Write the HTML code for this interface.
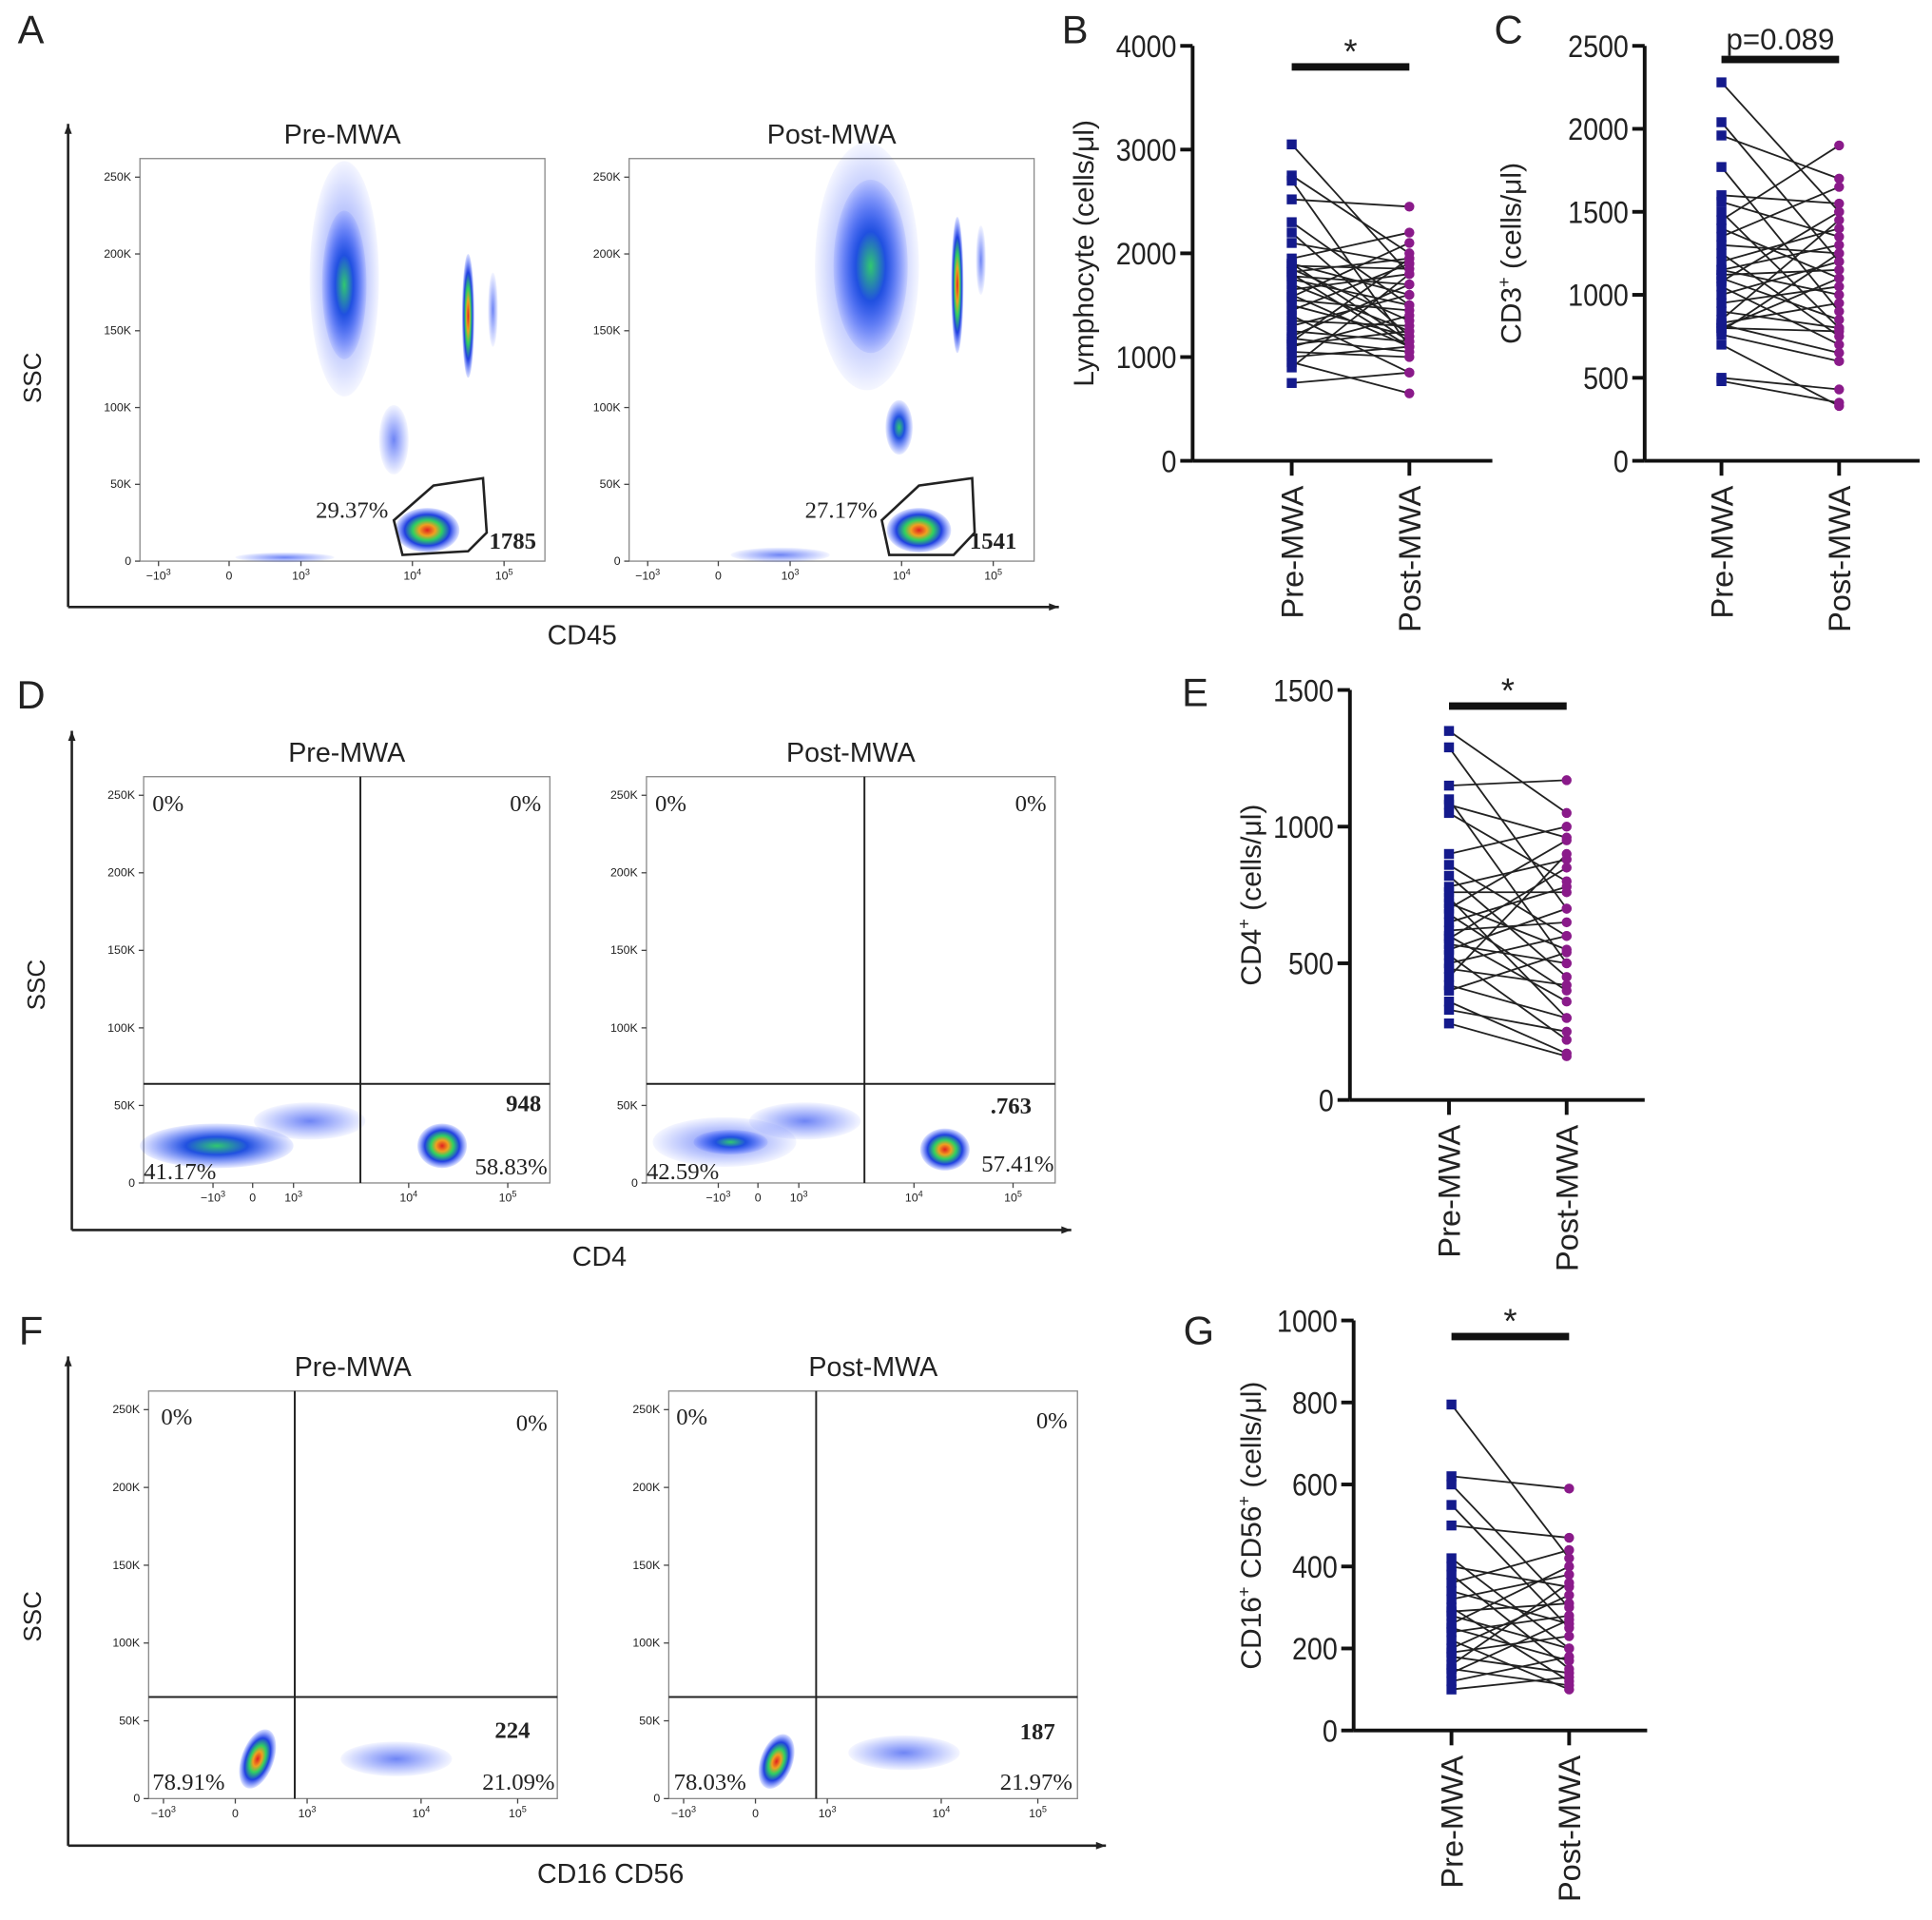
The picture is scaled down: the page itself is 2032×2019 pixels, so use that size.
<!DOCTYPE html>
<html><head><meta charset="utf-8">
<style>
html,body{margin:0;padding:0;background:#fff;}
svg{display:block;font-family:"Liberation Sans",Arial,sans-serif;}
</style></head>
<body>
<svg id="fig" width="2032" height="2019" viewBox="0 0 1560 1550" xmlns="http://www.w3.org/2000/svg">
<defs>
<radialGradient id="heat" cx="50%" cy="50%" r="50%">
<stop offset="0%" stop-color="#e02020"/><stop offset="25%" stop-color="#f0a020"/><stop offset="45%" stop-color="#30d060"/><stop offset="70%" stop-color="#2040e0"/><stop offset="100%" stop-color="#3050ff" stop-opacity="0.15"/>
</radialGradient>
<radialGradient id="cool" cx="50%" cy="50%" r="50%">
<stop offset="0%" stop-color="#30c870"/><stop offset="40%" stop-color="#2050e0"/><stop offset="100%" stop-color="#3050ff" stop-opacity="0.1"/>
</radialGradient>
<radialGradient id="faint" cx="50%" cy="50%" r="50%">
<stop offset="0%" stop-color="#3050f0" stop-opacity="0.7"/><stop offset="100%" stop-color="#3050ff" stop-opacity="0.05"/>
</radialGradient>
</defs>
</svg>
<script>
// ===== Chart data =====
const groups = ["Pre-MWA","Post-MWA"];
const bTicks = [0,1000,2000,3000,4000];
const bPre  = [3050,2750,2700,2520,2300,2200,2100,1950,1900,1900,1880,1850,1820,1800,1780,1750,1700,1650,1600,1580,1550,1500,1450,1400,1350,1300,1250,1200,1180,1150,1120,1100,1050,1000,950,900,750];
const bPost = [1800,2000,1100,2450,1500,1200,1900,2200,1600,1150,1850,1350,1950,1100,1700,1500,1250,1800,1100,2100,1450,1200,1900,850,1300,1600,1150,1700,1050,1950,1250,1400,1000,1100,650,1800,850];
const cTicks = [0,500,1000,1500,2000,2500];
const cPre  = [2280,2040,1960,1770,1600,1560,1500,1450,1400,1350,1300,1250,1200,1150,1150,1120,1100,1080,1050,1000,950,900,850,830,820,800,800,780,760,700,500,480];
const cPost = [1500,1200,1700,900,1550,1350,800,1900,1100,1650,1250,750,1400,1300,1000,1150,850,1500,700,1200,1050,800,1450,950,650,1100,780,1250,600,330,430,350];
const eTicks = [0,500,1000,1500];
const ePre  = [1350,1290,1150,1100,1080,1050,900,860,820,780,760,740,720,700,680,650,620,600,590,570,550,530,500,480,450,420,400,360,330,280];
const ePost = [1050,700,1170,500,960,800,1000,600,450,880,760,300,550,950,400,780,650,360,850,500,700,220,600,420,900,300,540,170,250,160];
const gTicks = [0,200,400,600,800,1000];
const gPre  = [795,620,600,550,500,420,400,380,360,340,320,300,290,280,260,250,240,220,200,190,180,160,150,140,120,100];
const gPost = [420,590,300,250,470,200,350,150,440,260,380,120,310,200,400,170,280,100,330,230,140,360,110,270,180,130];

const SVGNS="http://www.w3.org/2000/svg";
const fig=document.getElementById('fig');
function mk(tag,attrs,parent,text){const e=document.createElementNS(SVGNS,tag);for(const k in attrs)e.setAttribute(k,attrs[k]);if(text!==undefined)e.textContent=text;(parent||fig).appendChild(e);return e;}
function txt(x,y,s,size,parent,opts){opts=opts||{};const e=mk('text',{x:x,y:y,'font-size':size,'text-anchor':opts.anchor||'middle','font-family':opts.serif?'"Liberation Serif",serif':'"Liberation Sans",Arial,sans-serif','font-weight':opts.bold?'bold':'normal',fill:'#222'},parent,s);if(opts.rot)e.setAttribute('transform','rotate(-90 '+x+' '+y+')');if(opts.sx)e.setAttribute('transform','translate('+x+' '+y+') scale('+opts.sx+' 1) translate('+(-x)+' '+(-y)+')');return e;}

// panel letters
[["A",25,35],["B",868,35],["C",1218,35],["D",25,572],["E",965,570],["F",25,1085],["G",968,1085]].forEach(p=>{
  const t=txt(p[1],p[2],p[0],32,fig,{});
  
  
});

// ===== Paired dot plots =====
function paired(cfg){
  const g=mk('g',{});
  
  
  const ymax=cfg.ticks[cfg.ticks.length-1];
  const Y=v=>cfg.y0-(v/ymax)*(cfg.y0-cfg.y1);
  const X=i=>i===0?cfg.xPre:cfg.xPost;
  mk('line',{x1:cfg.ax,y1:cfg.y1,x2:cfg.ax,y2:cfg.y0,stroke:'#111','stroke-width':3},g);
  mk('line',{x1:cfg.ax,y1:cfg.y0,x2:cfg.xend,y2:cfg.y0,stroke:'#111','stroke-width':3},g);
  cfg.ticks.forEach(t=>{
    mk('line',{x1:cfg.ax-10,y1:Y(t),x2:cfg.ax,y2:Y(t),stroke:'#111','stroke-width':3},g);
    const l=txt(cfg.ax-13,Y(t)+9,String(t),25,g,{anchor:'end',sx:0.88});
    
    
  });
  groups.forEach((nm,i)=>{
    mk('line',{x1:X(i),y1:cfg.y0,x2:X(i),y2:cfg.y0+12,stroke:'#111','stroke-width':3},g);
    const l=txt(X(i)+9,cfg.y0+20,nm,25,g,{anchor:'end',rot:true});
    
    
  });
  const yl=txt(cfg.labX,(cfg.y0+cfg.y1)/2,'',23,g,{rot:true});
  yl.innerHTML=cfg.label;
  
  
  cfg.pre.forEach((v,i)=>{
    const ln=mk('line',{x1:X(0),y1:Y(v),x2:X(1),y2:Y(cfg.post[i]),stroke:'#222','stroke-width':1.4},g);
    
    
  });
  cfg.pre.forEach(v=>{
    const r=mk('rect',{x:X(0)-4,y:Y(v)-4,width:8,height:8,fill:'#141a8c'},g);
    
    
  });
  cfg.post.forEach(v=>{
    const c=mk('circle',{cx:X(1),cy:Y(v),r:4,fill:'#8a1a8a'},g);
    
    
  });
  const bar=mk('rect',{x:X(0),y:cfg.barY-3,width:X(1)-X(0),height:6,fill:'#111'},g);
  
  
  const s=txt((X(0)+X(1))/2,cfg.barY-(cfg.sig==='*'?3:8),cfg.sig,cfg.sig==='*'?28:24,g,{});
  
  
}
paired({name:'lymphocyte-chart',ticks:bTicks,pre:bPre,post:bPost,ax:963,y0:372,y1:37,xend:1205,xPre:1043,xPost:1138,barY:54,sig:'*',labX:883,label:'Lymphocyte (cells/μl)'});
paired({name:'cd3-chart',ticks:cTicks,pre:cPre,post:cPost,ax:1328,y0:372,y1:37,xend:1550,xPre:1390,xPost:1485,barY:48,sig:'p=0.089',labX:1228,label:'CD3<tspan dy="-9" font-size="14">+</tspan><tspan dy="9"> (cells/μl)</tspan>'});
paired({name:'cd4-chart',ticks:eTicks,pre:ePre,post:ePost,ax:1090,y0:888,y1:557,xend:1328,xPre:1170,xPost:1265,barY:570,sig:'*',labX:1018,label:'CD4<tspan dy="-9" font-size="14">+</tspan><tspan dy="9"> (cells/μl)</tspan>'});
paired({name:'nk-chart',ticks:gTicks,pre:gPre,post:gPost,ax:1093,y0:1397,y1:1066,xend:1330,xPre:1172,xPost:1267,barY:1079,sig:'*',labX:1018,label:'CD16<tspan dy="-9" font-size="14">+</tspan><tspan dy="9"> CD56</tspan><tspan dy="-9" font-size="14">+</tspan><tspan dy="9"> (cells/μl)</tspan>'});

// ===== Flow cytometry panels =====
function arrowAxes(x,yTop,yBot,xRight,ylab,xlab,ylY,xlX,xlY,name){
  const g=mk('g',{});
  
  
  mk('line',{x1:x,y1:yTop,x2:x,y2:yBot,stroke:'#222','stroke-width':2},g);
  mk('line',{x1:x,y1:yBot,x2:xRight,y2:yBot,stroke:'#222','stroke-width':2},g);
  mk('path',{d:`M${x-3},${yTop+8} L${x},${yTop} L${x+3},${yTop+8}Z`,fill:'#222'},g);
  mk('path',{d:`M${xRight-8},${yBot-3} L${xRight},${yBot} L${xRight-8},${yBot+3}Z`,fill:'#222'},g);
  txt(x-22,ylY,ylab,20,g,{rot:true});
  txt(xlX,xlY,xlab,22,g,{});
}
function flowBox(b){
  const g=mk('g',{});
  
  
  const w=b.x1-b.x0,h=b.y1-b.y0;
  mk('rect',{x:b.x0,y:b.y0,width:w,height:h,fill:'#fff',stroke:'#888','stroke-width':1},g);
  txt((b.x0+b.x1)/2,b.y0-12,b.title,22,g,{});
  const yt=['250K','200K','150K','100K','50K','0'];
  yt.forEach((t,i)=>{const yy=b.y0+15+i*(h-15)/5;mk('line',{x1:b.x0-4,y1:yy,x2:b.x0,y2:yy,stroke:'#444'},g);txt(b.x0-7,yy+3,t,9.5,g,{anchor:'end'});});
  b.xt.forEach(t=>{mk('line',{x1:t[0],y1:b.y1,x2:t[0],y2:b.y1+4,stroke:'#444'},g);const e=txt(t[0],b.y1+15,'',9.5,g,{});e.innerHTML=t[1];});
  b.blobs.forEach(e=>{mk('ellipse',{cx:e[0],cy:e[1],rx:e[2],ry:e[3],fill:'url(#'+e[4]+')',transform:`rotate(${e[5]||0} ${e[0]} ${e[1]})`},g);});
  (b.lines||[]).forEach(l=>mk('line',{x1:l[0],y1:l[1],x2:l[2],y2:l[3],stroke:'#222','stroke-width':1.5},g));
  if(b.gate)mk('path',{d:b.gate,fill:'none',stroke:'#222','stroke-width':2},g);
  b.labels.forEach(l=>txt(l[0],l[1],l[2],l[3]||19,g,{serif:true,bold:!!l[4],anchor:l[5]||'start'}));
}
const xtA=o=>[[128+o,'−10<tspan dy="-4" font-size="7">3</tspan>'],[185+o,'0'],[243+o,'10<tspan dy="-4" font-size="7">3</tspan>'],[333+o,'10<tspan dy="-4" font-size="7">4</tspan>'],[407+o,'10<tspan dy="-4" font-size="7">5</tspan>']];

arrowAxes(55,100,490,855,'SSC','CD45',305,470,520,'flow-axes-a');
flowBox({name:'flow-cd45-pre',x0:113,y0:128,x1:440,y1:453,title:'Pre-MWA',xt:xtA(0),
 blobs:[[278,225,28,95,'faint'],[278,230,18,60,'cool'],[318,355,12,28,'faint'],[345,428,26,18,'heat'],[378,255,5,50,'heat'],[398,250,4,30,'faint'],[230,450,40,4,'faint']],
 gate:'M318,420 L350,392 L390,386 L393,430 L378,445 L325,448 Z',
 labels:[[255,418,'29.37%',19],[395,443,'1785',19,1]]});
flowBox({name:'flow-cd45-post',x0:508,y0:128,x1:835,y1:453,title:'Post-MWA',xt:xtA(395),
 blobs:[[700,215,42,100,'faint'],[703,215,30,70,'cool'],[726,345,11,22,'cool'],[742,428,26,18,'heat'],[773,230,5,55,'heat'],[792,210,4,28,'faint'],[630,448,40,6,'faint']],
 gate:'M712,420 L742,392 L785,386 L787,430 L770,448 L718,448 Z',
 labels:[[650,418,'27.17%',19],[783,443,'1541',19,1]]});

const xtD=o=>[[172+o,'−10<tspan dy="-4" font-size="7">3</tspan>'],[204+o,'0'],[237+o,'10<tspan dy="-4" font-size="7">3</tspan>'],[330+o,'10<tspan dy="-4" font-size="7">4</tspan>'],[410+o,'10<tspan dy="-4" font-size="7">5</tspan>']];
arrowAxes(58,590,993,865,'SSC','CD4',795,484,1022,'flow-axes-d');
flowBox({name:'flow-cd4-pre',x0:116,y0:627,x1:444,y1:955,title:'Pre-MWA',xt:xtD(0),
 blobs:[[175,925,62,18,'cool'],[357,925,20,18,'heat'],[250,905,45,15,'faint']],
 lines:[[291,627,291,955],[116,875,444,875]],
 labels:[[123,655,'0%'],[437,655,'0%',19,0,'end'],[437,897,'948',19,1,'end'],[116,952,'41.17%'],[442,948,'58.83%',19,0,'end']]});
flowBox({name:'flow-cd4-post',x0:522,y0:627,x1:852,y1:955,title:'Post-MWA',xt:xtD(408),
 blobs:[[585,922,58,20,'faint'],[590,922,30,10,'cool'],[763,928,20,17,'heat'],[650,905,45,15,'faint']],
 lines:[[698,627,698,955],[522,875,852,875]],
 labels:[[529,655,'0%'],[845,655,'0%',19,0,'end'],[833,899,'.763',19,1,'end'],[522,952,'42.59%'],[851,946,'57.41%',19,0,'end']]});

const xtF=o=>[[132+o,'−10<tspan dy="-4" font-size="7">3</tspan>'],[190+o,'0'],[248+o,'10<tspan dy="-4" font-size="7">3</tspan>'],[340+o,'10<tspan dy="-4" font-size="7">4</tspan>'],[418+o,'10<tspan dy="-4" font-size="7">5</tspan>']];
arrowAxes(55,1095,1490,893,'SSC','CD16 CD56',1305,493,1520,'flow-axes-f');
flowBox({name:'flow-nk-pre',x0:120,y0:1123,x1:450,y1:1452,title:'Pre-MWA',xt:xtF(0),
 blobs:[[208,1420,13,25,'heat',20],[320,1420,45,14,'faint']],
 lines:[[238,1123,238,1452],[120,1370,450,1370]],
 labels:[[130,1150,'0%'],[442,1155,'0%',19,0,'end'],[428,1403,'224',19,1,'end'],[123,1445,'78.91%'],[448,1445,'21.09%',19,0,'end']]});
flowBox({name:'flow-nk-post',x0:540,y0:1123,x1:870,y1:1452,title:'Post-MWA',xt:xtF(420),
 blobs:[[627,1422,13,23,'heat',20],[730,1415,45,14,'faint']],
 lines:[[659,1123,659,1452],[540,1370,870,1370]],
 labels:[[546,1150,'0%'],[862,1153,'0%',19,0,'end'],[852,1404,'187',19,1,'end'],[544,1445,'78.03%'],[866,1445,'21.97%',19,0,'end']]});
</script>
</body></html>
